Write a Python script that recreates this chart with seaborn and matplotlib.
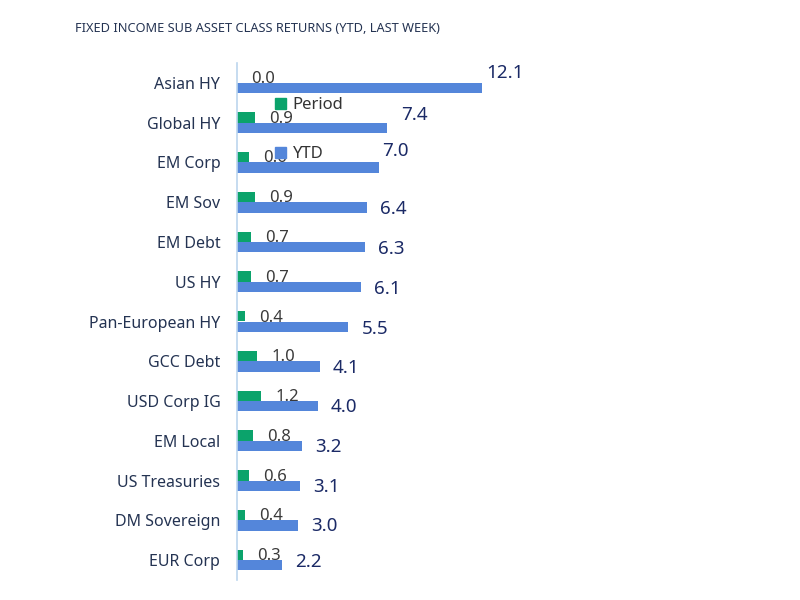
import pandas as pd
import matplotlib
matplotlib.use("Agg")
import matplotlib.pyplot as plt
import seaborn as sns
from matplotlib.patches import Patch

# data
categories = [
    "Asian HY", "Global HY", "EM Corp", "EM Sov", "EM Debt", "US HY",
    "Pan-European HY", "GCC Debt", "USD Corp IG", "EM Local",
    "US Treasuries", "DM Sovereign", "EUR Corp",
]
period = [0.0, 0.9, 0.6, 0.9, 0.7, 0.7, 0.4, 1.0, 1.2, 0.8, 0.6, 0.4, 0.3]
ytd = [12.1, 7.4, 7.0, 6.4, 6.3, 6.1, 5.5, 4.1, 4.0, 3.2, 3.1, 3.0, 2.2]

# label nudges (pixels) for the YTD value labels, as placed in the original
ytd_dx = [4, 14, 3, 13, 13, 13, 13, 13, 13, 13, 13, 13, 14]
ytd_dy = [-10, -8, -11, 7, 7, 7, 7, 7, 6, 6, 6, 6, 2]

GREEN = "#0ba36b"
BLUE = "#5486da"
NAVY = "#1b2a66"
TEXT = "#243352"

df = pd.DataFrame({
    "Category": categories * 2,
    "Series": ["Period"] * len(categories) + ["YTD"] * len(categories),
    "Value": period + ytd,
})

sns.set_style("white")
plt.rcParams["font.family"] = ["Noto Sans", "DejaVu Sans"]

fig = plt.figure(figsize=(8, 6), dpi=100)
ax = fig.add_axes([237 / 800, 20 / 600, 483 / 800, 517 / 600])

sns.barplot(
    data=df, y="Category", x="Value", hue="Series", order=categories,
    hue_order=["Period", "YTD"], palette=[GREEN, BLUE], orient="h",
    width=0.52, dodge=True, legend=False, ax=ax, saturation=1, linewidth=0,
)

ax.set_xlim(0, 483 / 20.25)
ax.set_ylim(len(categories) - 0.5, -0.5)
ax.set_xlabel("")
ax.set_ylabel("")
ax.set_xticks([])
for side in ["top", "right", "bottom"]:
    ax.spines[side].set_visible(False)
ax.spines["left"].set_color("#bcd6ee")
ax.spines["left"].set_linewidth(1.2)
ax.tick_params(axis="y", length=0, pad=12, labelsize=11.5, labelcolor=TEXT)

px = 0.72  # points per pixel at 100 dpi
for i, (p, y) in enumerate(zip(period, ytd)):
    ax.annotate(f"{p:.1f}", (p, i), xytext=(14 * px, 4 * px),
                textcoords="offset points", ha="left", va="center",
                fontsize=12, color="#3a3a3a")
    ax.annotate(f"{y:.1f}", (y, i), xytext=(ytd_dx[i] * px, -ytd_dy[i] * px),
                textcoords="offset points", ha="left", va="center",
                fontsize=13.5, color=NAVY)

handles = [Patch(color=GREEN, label="Period"), Patch(color=BLUE, label="YTD")]
fig.legend(handles=handles, loc="upper left", bbox_to_anchor=(260 / 800, 1 - 82 / 600),
           frameon=False, handlelength=0.65, handleheight=0.65, handletextpad=0.4,
           labelspacing=2.0, fontsize=12, labelcolor="#333333")

fig.text(75 / 800, 1 - 28 / 600, "FIXED INCOME SUB ASSET CLASS RETURNS (YTD, LAST WEEK)",
         fontsize=9.2, color=TEXT, va="center", ha="left")

fig.savefig("out.png", dpi=100)
